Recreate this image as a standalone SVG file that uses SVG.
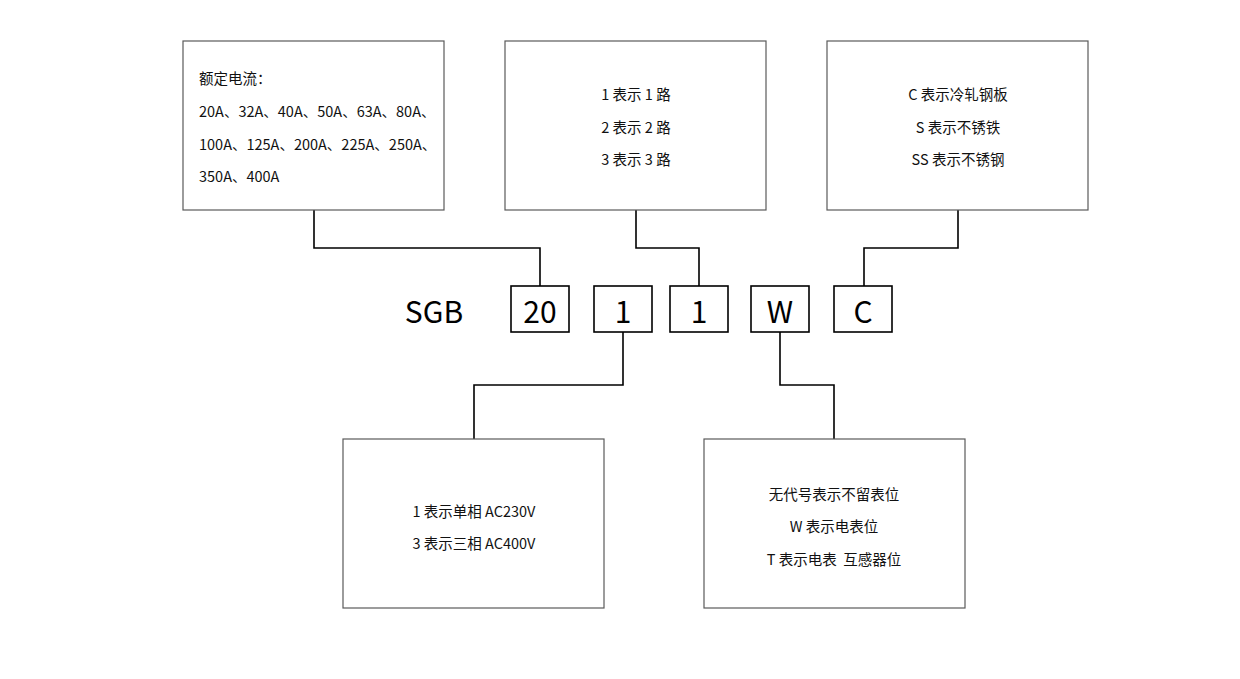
<svg xmlns="http://www.w3.org/2000/svg" width="1240" height="679" viewBox="0 0 1240 679">
<style>
.box{fill:#fff;stroke:#5a5a5a;stroke-width:1.2}
.code{fill:#fff;stroke:#000;stroke-width:1.6}
.t{font-family:"Noto Sans CJK SC","Noto Sans",sans-serif;font-size:14.5px;fill:#111;dominant-baseline:central}
.c{text-anchor:middle}
.big{font-family:"Noto Sans CJK SC","Noto Sans",sans-serif;font-size:30px;fill:#000;dominant-baseline:central;text-anchor:middle}
.wire{fill:none;stroke:#000;stroke-width:1.6}
</style>
<rect width="1240" height="679" fill="#fff"/>
<g id="connectors">
<polyline class="wire" points="314,210 314,248 540,248 540,286"/>
<polyline class="wire" points="636,210 636,248 699,248 699,286"/>
<polyline class="wire" points="958,210 958,248 864,248 864,286"/>
<polyline class="wire" points="623,332 623,385 474,385 474,439"/>
<polyline class="wire" points="780,332 780,385 834,385 834,439"/>
</g>
<g id="box-current">
<rect class="box" x="183" y="41" width="261" height="169"/>
<text class="t" x="199" y="77">额定电流：</text>
<text class="t" x="199" y="110">20A、32A、40A、50A、63A、80A、</text>
<text class="t" x="199" y="143">100A、125A、200A、225A、250A、</text>
<text class="t" x="199" y="175">350A、400A</text>
</g>
<g id="box-circuits">
<rect class="box" x="505" y="41" width="261" height="169"/>
<text class="t c" x="636" y="93">1 表示 1 路</text>
<text class="t c" x="636" y="126">2 表示 2 路</text>
<text class="t c" x="636" y="158">3 表示 3 路</text>
</g>
<g id="box-material">
<rect class="box" x="827" y="41" width="261" height="169"/>
<text class="t c" x="958" y="93">C 表示冷轧钢板</text>
<text class="t c" x="958" y="126">S 表示不锈铁</text>
<text class="t c" x="958" y="158">SS 表示不锈钢</text>
</g>
<g id="box-phase">
<rect class="box" x="343" y="439" width="261" height="169"/>
<text class="t c" x="474" y="510">1 表示单相 AC230V</text>
<text class="t c" x="474" y="542">3 表示三相 AC400V</text>
</g>
<g id="box-meter">
<rect class="box" x="704" y="439" width="261" height="169"/>
<text class="t c" x="834" y="493">无代号表示不留表位</text>
<text class="t c" x="834" y="525">W 表示电表位</text>
<text class="t c" x="834" y="558">T 表示电表&#160; 互感器位</text>
</g>
<g id="sgb">
<text class="big" x="434" y="310">SGB</text>
</g>
<g id="code-20">
<rect class="code" x="511" y="286" width="58" height="46"/>
<text class="big" x="540" y="310">20</text>
</g>
<g id="code-1a">
<rect class="code" x="594" y="286" width="58" height="46"/>
<text class="big" x="623" y="310">1</text>
</g>
<g id="code-1b">
<rect class="code" x="670" y="286" width="58" height="46"/>
<text class="big" x="699" y="310">1</text>
</g>
<g id="code-w">
<rect class="code" x="751" y="286" width="58" height="46"/>
<text class="big" x="780" y="310">W</text>
</g>
<g id="code-c">
<rect class="code" x="834" y="286" width="58" height="46"/>
<text class="big" x="863" y="310">C</text>
</g>
</svg>
